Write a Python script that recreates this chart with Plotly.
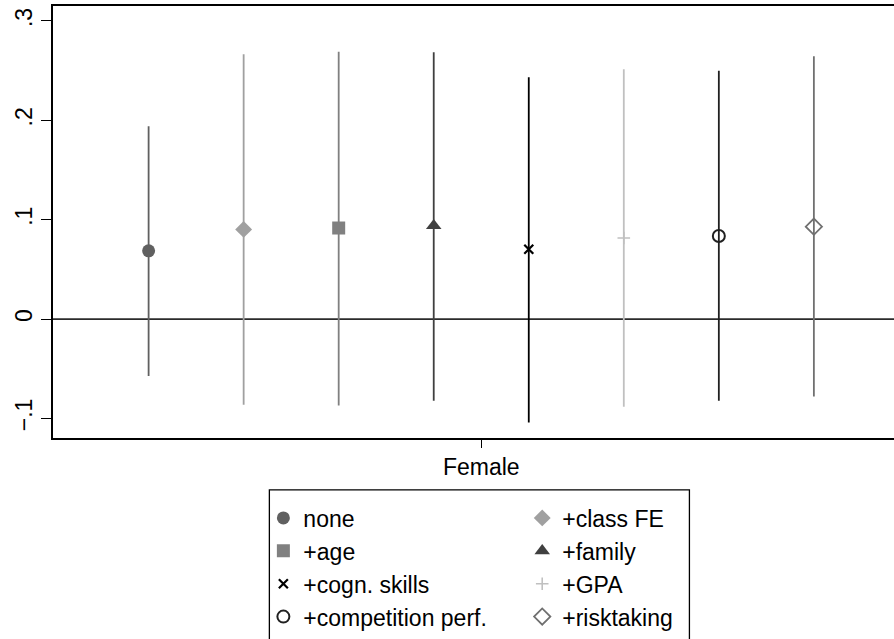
import plotly.graph_objects as go

# ---- data ----
models = ["none", "+class FE", "+age", "+family", "+cogn. skills",
          "+GPA", "+competition perf.", "+risktaking"]
coef = [0.0686, 0.0902, 0.0916, 0.0940, 0.0702, 0.0816, 0.0836, 0.0929]
ci_lo = [-0.0573, -0.0862, -0.0869, -0.0822, -0.1042, -0.0882, -0.0822, -0.0779]
ci_hi = [0.1940, 0.2664, 0.2690, 0.2684, 0.2434, 0.2514, 0.2498, 0.2644]
category = "Female"
ytick_vals = [-0.1, 0, 0.1, 0.2, 0.3]
ytick_text = ["\u2212.1", "0", ".1", ".2", ".3"]

# ---- styles ----
colors = ["#606060", "#a0a0a0", "#808080", "#404040", "#000000",
          "#c0c0c0", "#202020", "#707070"]
symbols = ["circle", "diamond", "square", "triangle-up", "x-thin-open",
           "cross-thin-open", "circle-open", "diamond-open"]
sizes = [13, 13, 13, 13.5, 9, 9, 12, 12.5]
line_w = [0, 0, 0, 0, 2.2, 1.6, 2, 1.8]
FONT = "Liberation Sans, Arial, sans-serif"
n = len(models)
step = 0.1

fig = go.Figure()
for i, m in enumerate(models):
    x = 1 + (i - (n - 1) / 2) * step
    fig.add_trace(go.Scatter(
        x=[x], y=[coef[i]], mode="markers", name=m,
        legend="legend" if i % 2 == 0 else "legend2",
        marker=dict(symbol=symbols[i], size=sizes[i], color=colors[i],
                    line=dict(width=line_w[i], color=colors[i])),
        error_y=dict(type="data", symmetric=False,
                     array=[ci_hi[i] - coef[i]],
                     arrayminus=[coef[i] - ci_lo[i]],
                     color=colors[i], thickness=1.8, width=0),
    ))

fig.add_shape(type="line", xref="paper", x0=0, x1=1, yref="y", y0=0, y1=0,
              line=dict(color="#2b2b2b", width=1.8), layer="below")

# layout geometry (pixels)
L, T, B = 52.5, 6, 442
W, H = 894 - L, B - T
def px(xp): return (xp - L) / W
def py(yp): return (B - yp) / H
fig.add_shape(type="rect", xref="paper", yref="paper",
              x0=px(269), x1=px(689.3), y0=py(494.3), y1=py(720),
              line=dict(color="#000000", width=1.3), fillcolor="rgba(0,0,0,0)")

leg_common = dict(orientation="v", xanchor="left", yanchor="top",
                  font=dict(family=FONT, size=23, color="#000000"),
                  bgcolor="rgba(0,0,0,0)", borderwidth=0, tracegroupgap=0)
fig.update_layout(
    width=894, height=639,
    margin=dict(l=L, r=0, t=T, b=639 - B, pad=0),
    paper_bgcolor="white", plot_bgcolor="white",
    font=dict(family=FONT, size=23, color="#000000"),
    showlegend=True,
    legend=dict(x=px(263), y=py(501), **leg_common),
    legend2=dict(x=px(522), y=py(501), **leg_common),
    xaxis=dict(range=[0.5494, 1.4343], tickvals=[1], ticktext=[category],
               ticks="outside", ticklen=8, tickwidth=1.2, tickcolor="#000",
               showgrid=False, zeroline=False, showline=True, mirror=True,
               linecolor="#000", linewidth=1.6,
               tickfont=dict(family=FONT, size=23, color="#000")),
    yaxis=dict(range=[-0.1197, 0.315], tickvals=ytick_vals, ticktext=ytick_text,
               ticks="outside", ticklen=10, tickwidth=1.2, tickcolor="#000",
               tickangle=-90, showgrid=False, zeroline=False, showline=True,
               mirror=False, linecolor="#000", linewidth=1.6,
               tickfont=dict(family=FONT, size=23, color="#000")),
)

fig.write_html("out.html", config={"displayModeBar": False},
               post_script="document.body.style.margin='0px';document.body.style.overflow='hidden';")
